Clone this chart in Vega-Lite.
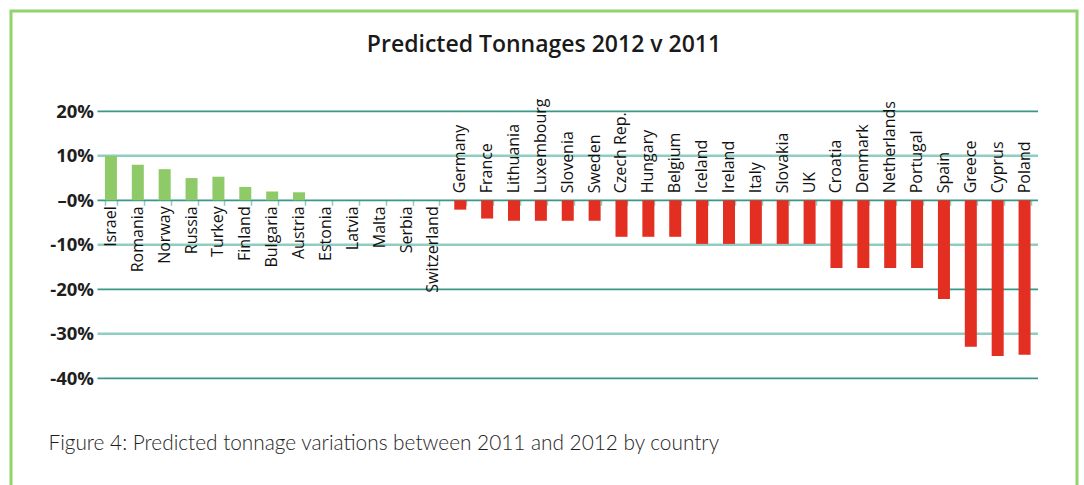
{
  "$schema": "https://vega.github.io/schema/vega-lite/v6.json",
  "width": 1066,
  "height": 477,
  "autosize": {"type": "none"},
  "padding": {"left": 11, "top": 11, "right": 7, "bottom": -3},
  "background": "#ffffff",
  "config": {"view": {"stroke": "#93d36b", "strokeWidth": 3}},
  "title": {"text": "Predicted Tonnages 2012 v 2011", "anchor": "middle", "frame": "group", "offset": -64, "baseline": "alphabetic", "font": "Open Sans", "fontSize": 23, "fontWeight": 600, "color": "#1a1a1a"},
  "datasets": {
    "grid": [{"g": 20}, {"g": 10}, {"g": 0}, {"g": -10}, {"g": -20}, {"g": -30}, {"g": -40}],
    "tonnage": [
      {"country": "Israel", "v": 10},
      {"country": "Romania", "v": 8},
      {"country": "Norway", "v": 7},
      {"country": "Russia", "v": 5},
      {"country": "Turkey", "v": 5.3},
      {"country": "Finland", "v": 3},
      {"country": "Bulgaria", "v": 2},
      {"country": "Austria", "v": 1.8},
      {"country": "Estonia", "v": 0},
      {"country": "Latvia", "v": 0},
      {"country": "Malta", "v": 0},
      {"country": "Serbia", "v": 0},
      {"country": "Switzerland", "v": 0},
      {"country": "Germany", "v": -2.1},
      {"country": "France", "v": -4.1},
      {"country": "Lithuania", "v": -4.6},
      {"country": "Luxembourg", "v": -4.6},
      {"country": "Slovenia", "v": -4.6},
      {"country": "Sweden", "v": -4.6},
      {"country": "Czech Rep.", "v": -8.2},
      {"country": "Hungary", "v": -8.2},
      {"country": "Belgium", "v": -8.2},
      {"country": "Iceland", "v": -9.8},
      {"country": "Ireland", "v": -9.8},
      {"country": "Italy", "v": -9.8},
      {"country": "Slovakia", "v": -9.8},
      {"country": "UK", "v": -9.8},
      {"country": "Croatia", "v": -15.2},
      {"country": "Denmark", "v": -15.2},
      {"country": "Netherlands", "v": -15.2},
      {"country": "Portugal", "v": -15.2},
      {"country": "Spain", "v": -22.2},
      {"country": "Greece", "v": -32.9},
      {"country": "Cyprus", "v": -35},
      {"country": "Poland", "v": -34.7}
    ]
  },
  "resolve": {"scale": {"x": "independent"}},
  "layer": [
    {
      "data": {"name": "grid"},
      "mark": {"type": "rule"},
      "encoding": {
        "x": {"datum": 0, "type": "quantitative", "scale": {"domain": [0, 1], "range": [86.5, 1027]}, "axis": null},
        "x2": {"datum": 1},
        "y": {"field": "g", "type": "quantitative", "title": null,
          "scale": {"domain": [-40, 20], "range": [367.3, 100.3], "nice": false, "zero": false},
          "axis": {"orient": "left", "offset": -86.5, "values": [20, 10, 0, -10, -20, -30, -40], "ticks": false, "domain": false, "grid": false, "title": null,
            "labelExpr": "datum.value == 0 ? '–0%' : datum.value + '%'",
            "labelFont": "Open Sans", "labelFontWeight": "bold", "labelFontSize": 18.5, "labelColor": "#1e1e1e", "labelPadding": 4}},
        "stroke": {"condition": {"test": "datum.g % 20 == 0", "value": "#3a9888"}, "value": "#8fcdc2"},
        "strokeWidth": {"condition": {"test": "datum.g % 20 == 0", "value": 1.8}, "value": 2.6}
      }
    },
    {
      "data": {"name": "tonnage"},
      "layer": [
        {
          "mark": {"type": "bar"},
          "encoding": {
            "x": {"field": "country", "type": "nominal", "sort": null,
              "scale": {"range": [86.5, 1027], "paddingInner": 0.553, "paddingOuter": 0.2765},
              "axis": {"orient": "bottom", "offset": -287.7, "labels": false, "domain": false, "grid": false, "ticks": true, "tickBand": "extent", "tickSize": 5, "tickColor": "#8fcdc2", "tickWidth": 1.5,
                "title": "Figure 4: Predicted tonnage variations between 2011 and 2012 by country",
                "titleX": 37, "titleY": 248.7, "titleAnchor": "start", "titleAlign": "left", "titleBaseline": "alphabetic",
                "titleFont": "Lato", "titleFontWeight": 300, "titleFontSize": 20.8, "titleColor": "#1e1e1e"}},
            "y": {"field": "v", "type": "quantitative", "title": null},
            "color": {"condition": {"test": "datum.v >= 0", "value": "#8ecb68"}, "value": "#e32e22"}
          }
        },
        {
          "mark": {"type": "text", "angle": 270, "align": "right", "baseline": "middle", "dx": -6, "font": "Open Sans", "fontSize": 16, "color": "#111111"},
          "encoding": {
            "x": {"field": "country", "type": "nominal", "sort": null},
            "y": {"datum": 0, "type": "quantitative"},
            "text": {"condition": {"test": "datum.v >= 0", "field": "country"}, "value": ""}
          }
        },
        {
          "mark": {"type": "text", "angle": 270, "align": "left", "baseline": "middle", "dx": 7, "font": "Open Sans", "fontSize": 16, "color": "#111111"},
          "encoding": {
            "x": {"field": "country", "type": "nominal", "sort": null},
            "y": {"datum": 0, "type": "quantitative"},
            "text": {"condition": {"test": "datum.v < 0", "field": "country"}, "value": ""}
          }
        }
      ]
    }
  ]
}
